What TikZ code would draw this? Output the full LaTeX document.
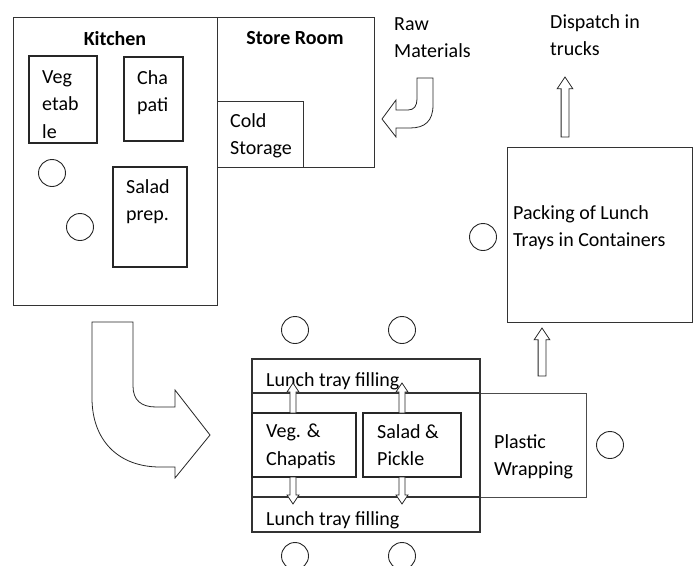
\documentclass[tikz,border=0pt]{standalone}
\usepackage{fontspec}
\setmainfont{Carlito}
\usetikzlibrary{calc}

% hollow vertical block arrow from #2 (base) to #3 (tip), #1 = size factor
\newcommand{\vblock}[3][1]{%
  \draw[blockarrow] let \p1=(#2), \p2=(#3), \n1={sign(\y2-\y1)}, \n2={#1} in
    ({\x1-3pt*\n2},\y1) -- ({\x1-3pt*\n2},{\y2-\n1*9pt*\n2}) -- ({\x1-6pt*\n2},{\y2-\n1*9pt*\n2})
    -- (\x1,\y2) -- ({\x1+6pt*\n2},{\y2-\n1*9pt*\n2}) -- ({\x1+3pt*\n2},{\y2-\n1*9pt*\n2})
    -- ({\x1+3pt*\n2},\y1) -- cycle;}

\begin{document}
\begin{tikzpicture}[x=1pt, y=-1pt,
    room/.style={draw=black!80, line width=0.9pt, inner sep=0pt, outer sep=0pt, anchor=north west},
    unit/.style={draw=black!85, line width=1.1pt, fill=white, inner sep=0pt, outer sep=0pt, anchor=north west},
    seat/.style={draw=black!85, line width=0.9pt, circle, minimum size=27pt, inner sep=0pt},
    lbl/.style={font=\fontsize{20}{27.5}\selectfont, align=left, inner sep=0pt, anchor=north west},
    blockarrow/.style={draw=black!85, line width=0.8pt, fill=white, line join=miter}]
    \useasboundingbox (0,0) rectangle (693,565);

    % kitchen and store room
    \node[room, minimum width=204pt, minimum height=288pt] (kitchen) at (13,17) {};
    \node[room, minimum width=157pt, minimum height=150pt] (store) at (217,17) {};
    \node[room, minimum width=86pt, minimum height=66pt] (cold) at (217,101) {};
    \node[lbl, anchor=north, font=\fontsize{20}{27.5}\selectfont\bfseries] (kitchenlbl) at (115,31) {Kitchen};
    \node[lbl, anchor=north, font=\fontsize{20}{27.5}\selectfont\bfseries] (storelbl) at (295,31) {Store Room};
    \node[lbl] (coldlbl) at (230,113) {Cold\\Storage};

    % work tables in the kitchen
    \node[unit, line width=1.4pt, minimum width=68pt, minimum height=87pt] (veg) at (29,56) {};
    \begin{scope}
        \clip (veg.north west) rectangle (veg.south east);
        \node[lbl] (veglbl) at (42,70) {Veg\\etab\\le};
    \end{scope}
    \node[unit, minimum width=59pt, minimum height=84pt] (chapati) at (124,57) {};
    \node[lbl] (chapatilbl) at (137,70) {Cha\\pati};
    \node[unit, minimum width=74pt, minimum height=100pt] (salad) at (113,167) {};
    \node[lbl] (saladlbl) at (126,179) {Salad\\prep.};
    \node[seat] (k1) at (52,173) {};
    \node[seat] (k2) at (80,227) {};

    % raw materials coming in
    \node[lbl] (rawlbl) at (394,17) {Raw\\Materials};
    \draw[blockarrow] (417,78) -- (433,78) -- (433,105) .. controls (433,121) and (425,128) .. (410,128)
        -- (396,128) -- (396,137) -- (382,119) -- (396,100) -- (396,110) -- (408,110)
        .. controls (414,110) and (417,106) .. (417,99) -- cycle;

    % kitchen to tray filling
    \draw[blockarrow] (92,322) -- (133,322) -- (133,386) .. controls (133,400) and (141,407) .. (156,407)
        -- (175,407) -- (175,390) -- (210,435) -- (175,478) -- (175,467) -- (160,467)
        .. controls (118,467) and (92,440) .. (92,398) -- cycle;

    % tray filling line and plastic wrapping
    \node[room, draw=black!70, line width=0.8pt, minimum width=334pt, minimum height=104pt] (wrap) at (252,393) {};
    \node[room, line width=1.1pt, minimum width=228pt, minimum height=173pt] (line) at (252,359) {};
    \node[room, line width=1.1pt, minimum width=228pt, minimum height=34pt] (traytop) at (252,359) {};
    \node[room, line width=1.1pt, minimum width=228pt, minimum height=35pt] (traybot) at (252,497) {};
    \node[lbl] (traytoplbl) at (266,372) {Lunch tray filling};
    \node[lbl] (traybotlbl) at (266,511) {Lunch tray filling};
    \node[lbl] (wraplbl) at (494,434) {Plastic\\Wrapping};
    \node[unit, minimum width=104pt, minimum height=64pt] (vegchap) at (252,413) {};
    \node[lbl] (vegchaplbl) at (266,424) {Veg. \&\\Chapatis};
    \node[unit, minimum width=98pt, minimum height=64pt] (pickle) at (363,413) {};
    \node[lbl] (picklelbl) at (377,424) {Salad \&\\Pickle};

    % serving into the trays
    \coordinate (vegup) at (293,383);
    \coordinate (vegdown) at (293,504);
    \coordinate (pickleup) at (402,383);
    \coordinate (pickledown) at (402,504);
    \vblock{vegchap.north -| vegup}{vegup}
    \vblock{vegchap.south -| vegdown}{vegdown}
    \vblock{pickle.north -| pickleup}{pickleup}
    \vblock{pickle.south -| pickledown}{pickledown}

    % workers
    \node[seat] (t1) at (295,330) {};
    \node[seat] (t2) at (402,330) {};
    \node[seat] (b1) at (295,556) {};
    \node[seat] (b2) at (402,556) {};
    \node[seat] (w1) at (610,445) {};
    \node[seat] (p1) at (483,237) {};

    % packing and dispatch
    \node[room, minimum width=185pt, minimum height=175pt] (packing) at (507,147) {};
    \node[lbl] (packinglbl) at (513,205) {Packing of Lunch\\Trays in Containers};
    \coordinate (wrapout) at (542,376);
    \coordinate (packin) at (542,328);
    \vblock[1.3]{wrapout}{packin}
    \coordinate (packout) at (565,137);
    \coordinate (trucks) at (565,77);
    \vblock[1.3]{packout}{trucks}
    \node[lbl] (dispatchlbl) at (550,14) {Dispatch in\\trucks};
\end{tikzpicture}
\end{document}
